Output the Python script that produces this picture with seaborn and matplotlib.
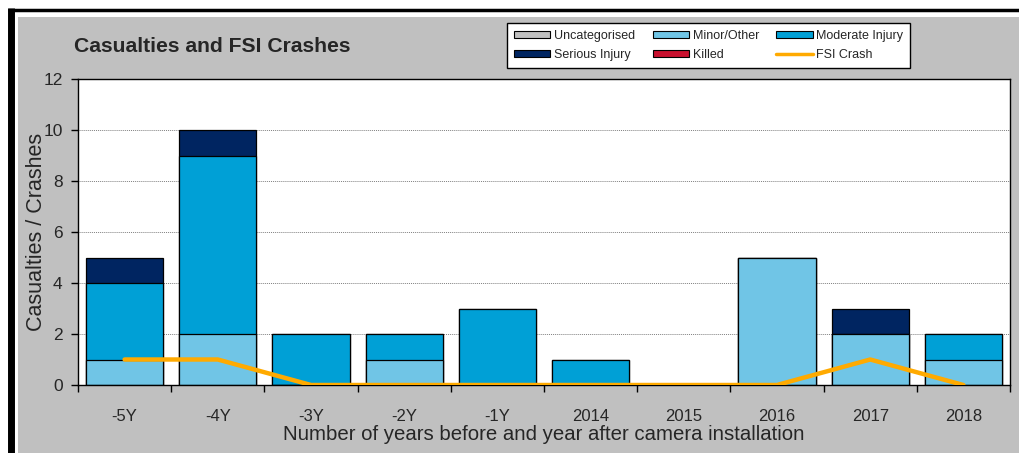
import numpy as np
import pandas as pd
import matplotlib
matplotlib.use("Agg")
import matplotlib.pyplot as plt
import seaborn as sns
from matplotlib.patches import Patch, Rectangle
from matplotlib.lines import Line2D

# chart values
periods = ["-5Y", "-4Y", "-3Y", "-2Y", "-1Y", "2014", "2015", "2016", "2017", "2018"]
uncategorised = [0, 0, 0, 0, 0, 0, 0, 0, 0, 0]
minor = [1, 2, 0, 1, 0, 0, 0, 5, 2, 1]
moderate = [3, 7, 2, 1, 3, 1, 0, 0, 0, 1]
serious = [1, 1, 0, 0, 0, 0, 0, 0, 1, 0]
killed = [0, 0, 0, 0, 0, 0, 0, 0, 0, 0]
fsi_crash = [1, 1, 0, 0, 0, 0, 0, 0, 1, 0]

colors = {
    "Uncategorised": "#C0C0C0",
    "Minor/Other": "#70C5E6",
    "Moderate Injury": "#00A0D6",
    "Serious Injury": "#002561",
    "Killed": "#C8102E",
}
line_color = "#FFAA00"

df = pd.DataFrame({
    "period": periods,
    "pos": np.arange(len(periods)),
    "minor": minor,
    "moderate": moderate,
    "serious": serious,
    "fsi": fsi_crash,
})
df["lvl1"] = df["minor"]
df["lvl2"] = df["lvl1"] + df["moderate"]
df["lvl3"] = df["lvl2"] + df["serious"]

sns.set_style("white")
plt.rcParams["font.family"] = ["Liberation Sans", "DejaVu Sans"]

fig = plt.figure(figsize=(10.2, 4.53), dpi=100)
fig.patch.set_facecolor("white")
fig.patches.append(Rectangle((18 / 1020, 0), 1, 1 - 17 / 453, transform=fig.transFigure,
                             facecolor="#C0C0C0", edgecolor="none", zorder=-10))
fig.lines.append(Line2D([8 / 1020, 1], [1 - 9.5 / 453] * 2, transform=fig.transFigure,
                        color="black", lw=2.5, solid_capstyle="butt"))
fig.lines.append(Line2D([11.5 / 1020] * 2, [0, 1 - 8 / 453], transform=fig.transFigure,
                        color="black", lw=5, solid_capstyle="butt"))

ax = fig.add_axes([78 / 1020, 1 - 385 / 453, (1010 - 78) / 1020, (385 - 79) / 453])
ax.set_facecolor("white")

bar_kw = dict(native_scale=True, width=0.83, saturation=1, edgecolor="black",
              linewidth=0.9, ax=ax, zorder=2)
sns.barplot(data=df, x="pos", y="lvl3", color=colors["Serious Injury"], **bar_kw)
sns.barplot(data=df, x="pos", y="lvl2", color=colors["Moderate Injury"], **bar_kw)
sns.barplot(data=df, x="pos", y="lvl1", color=colors["Minor/Other"], **bar_kw)
sns.lineplot(data=df, x="pos", y="fsi", color=line_color, lw=3.2, ax=ax, zorder=3)

ax.set_xlim(-0.5, len(periods) - 0.5)
ax.set_ylim(0, 12)
ax.set_yticks(range(0, 13, 2))
ax.set_xticks(np.arange(-0.5, len(periods), 1))
ax.set_xticklabels([])
ax.set_xticks(np.arange(len(periods)), labels=periods, minor=True)
ax.tick_params(axis="x", which="major", direction="out", length=5, width=1, color="black", bottom=True)
ax.tick_params(axis="x", which="minor", length=0, pad=17, labelsize=12)
ax.tick_params(axis="y", direction="out", length=5, width=1, color="black", pad=6,
               labelsize=12.5, left=True)
ax.yaxis.grid(True, linestyle=(0, (1, 1)), color="#808080", lw=0.7, zorder=0)
ax.set_axisbelow(True)
for s in ax.spines.values():
    s.set_color("black")
    s.set_linewidth(1)

ax.set_xlabel("Number of years before and year after camera installation", fontsize=14.7)
ax.xaxis.set_label_coords(0.5, -(435 - 385) / 306)
ax.xaxis.label.set_va("center")
ax.set_ylabel("Casualties / Crashes", fontsize=15.5)
ax.yaxis.set_label_coords(-41 / 932, 0.5)
ax.yaxis.label.set_va("center")

fig.text(74 / 1020, 1 - 47 / 453, "Casualties and FSI Crashes", fontsize=15.2,
         fontweight="bold", va="center", ha="left")

handles = [Patch(facecolor=colors["Uncategorised"], edgecolor="black", lw=0.8),
           Patch(facecolor=colors["Serious Injury"], edgecolor="black", lw=0.8),
           Patch(facecolor=colors["Minor/Other"], edgecolor="black", lw=0.8),
           Patch(facecolor=colors["Killed"], edgecolor="black", lw=0.8),
           Patch(facecolor=colors["Moderate Injury"], edgecolor="black", lw=0.8),
           Line2D([], [], color=line_color, lw=2.5)]
labels = ["Uncategorised", "Serious Injury", "Minor/Other", "Killed", "Moderate Injury", "FSI Crash"]
leg = fig.legend(handles, labels, ncol=3, loc="upper left",
                 bbox_to_anchor=(507 / 1020, 1 - 23 / 453), bbox_transform=fig.transFigure,
                 borderaxespad=0, fontsize=9, frameon=True, fancybox=False,
                 edgecolor="black", framealpha=1, handlelength=2.9, handleheight=0.5,
                 handletextpad=0.3, columnspacing=1.4, borderpad=0.55, labelspacing=0.55)
leg.get_frame().set_linewidth(1)

fig.savefig("out.png", dpi=100, facecolor=fig.get_facecolor())
